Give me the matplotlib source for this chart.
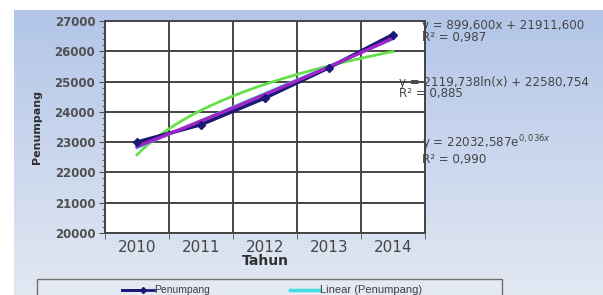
import numpy as np
import matplotlib
matplotlib.use("Agg")
import matplotlib.pyplot as plt
from matplotlib.patches import Rectangle
from matplotlib.lines import Line2D

# ---- data ----
years = ["2010", "2011", "2012", "2013", "2014"]
penumpang = [23000, 23580, 24460, 25460, 26552]
y_ticks = [20000, 21000, 22000, 23000, 24000, 25000, 26000, 27000]
eq_linear = ["y = 899,600x + 21911,600", "R² = 0,987"]
eq_log = ["y = 2119,738ln(x) + 22580,754", "R² = 0,885"]
eq_exp = [r"y = 22032,587e$^{0,036x}$", "R² = 0,990"]

W, H = 603, 295
fig = plt.figure(figsize=(W / 100, H / 100), dpi=100)
fig.patch.set_facecolor("white")

# gradient background
bg = fig.add_axes([14 / W, 0, 1 - 14 / W, 1 - 10 / H], zorder=-10)
grad = np.linspace(0, 1, 256)[:, None]
c_top = np.array([178, 197, 232]) / 255
c_bot = np.array([226, 232, 242]) / 255
img = c_top[None, None, :] * (1 - grad[:, :, None]) + c_bot[None, None, :] * grad[:, :, None]
img = np.repeat(img, 2, axis=1)
bg.imshow(img, aspect="auto", extent=[0, 1, 0, 1])
bg.axis("off")

# main axes
L, R, T, B = 105, 425, 21, 233
ax = fig.add_axes([L / W, 1 - B / H, (R - L) / W, (B - T) / H])
ax.set_facecolor("white")

x = np.arange(1, len(years) + 1)
y = np.array(penumpang, dtype=float)

xs = np.linspace(1, 5, 100)
lin = np.polyfit(x, y, 1)
logc = np.polyfit(np.log(x), y, 1)
expc = np.polyfit(x, np.log(y), 1)

ax.plot(xs, np.polyval(logc, np.log(xs)), color="#66e04a", lw=2.0, zorder=2)
ax.plot(xs, np.polyval(lin, xs), color="#40e0e0", lw=2.0, zorder=2.5)
ax.plot(x, y, color="#1c1878", lw=2.6, zorder=3)
ax.plot(xs, np.exp(np.polyval(expc, xs)), color="#a024c8", lw=2.4, zorder=4)
ax.plot(x, y, ls="none", marker="D", ms=4, color="#1c1878", zorder=5)

ax.set_xlim(0.5, 5.5)
ax.set_ylim(20000, 27000)
ax.set_yticks(y_ticks)
ax.set_yticklabels([str(v) for v in y_ticks])
ax.set_yticks(np.arange(20000, 27001, 200), minor=True)
ax.set_xticks(x)
ax.set_xticklabels(years)
ax.set_xticks(np.arange(0.5, 5.6, 1), minor=True)
ax.tick_params(axis="x", which="major", length=0, labelsize=11, colors="#454545", pad=5)
ax.tick_params(axis="x", which="minor", length=4, color="#505050", direction="out")
ax.tick_params(axis="y", which="major", length=4, labelsize=8.5, colors="#505050", pad=3)
ax.tick_params(axis="y", which="minor", length=2, color="#505050")
for lbl in ax.get_yticklabels():
    lbl.set_fontweight("bold")
ax.grid(False)
for v in y_ticks:
    ax.axhline(v, color="#454545", lw=1.4, zorder=1)
for v in np.arange(0.5, 5.6, 1):
    ax.axvline(v, color="#454545", lw=1.4, zorder=1)
for s in ax.spines.values():
    s.set_color("#454545")
    s.set_linewidth(1.4)

ax.set_xlabel("Tahun", fontsize=10, fontweight="bold", color="#303030", labelpad=-1)
ax.set_ylabel("Penumpang", fontsize=8, fontweight="bold", color="#303030", labelpad=9)

# equations
def ftxt(px, py, s):
    fig.text(px / W, 1 - py / H, s, fontsize=8.6, color="#454545", va="center", ha="left",
             family="DejaVu Sans")

ftxt(422, 26, eq_linear[0]); ftxt(422, 38, eq_linear[1])
ftxt(399, 82, eq_log[0]); ftxt(399, 94, eq_log[1])
ftxt(422, 143, eq_exp[0]); ftxt(422, 160, eq_exp[1])

# legend (cut off at the bottom)
fig.patches.append(Rectangle((37 / W, -0.05), (502 - 37) / W, (295 - 279) / H + 0.05,
                             transform=fig.transFigure, facecolor="#e4eaf4",
                             edgecolor="#707070", lw=1.0, zorder=5))
ly = 1 - 290 / H
fig.lines.append(Line2D([122 / W, 143 / W], [ly, ly], transform=fig.transFigure,
                        color="#1c1878", lw=2.0, marker="D", ms=3, markevery=[1], zorder=6))
fig.lines.append(Line2D([122 / W, 154 / W], [ly, ly], transform=fig.transFigure,
                        color="#1c1878", lw=2.0, zorder=6))
fig.text(154 / W, ly, "Penumpang", fontsize=7.5, color="#404040", va="center",
         family="Liberation Sans", zorder=7)
fig.lines.append(Line2D([290 / W, 320 / W], [ly, ly], transform=fig.transFigure,
                        color="#40e0e0", lw=2.5, zorder=6))
fig.text(320 / W, ly, "Linear (Penumpang)", fontsize=8, color="#404040", va="center",
         family="Liberation Sans", zorder=7)

fig.savefig("out.png", dpi=100)
